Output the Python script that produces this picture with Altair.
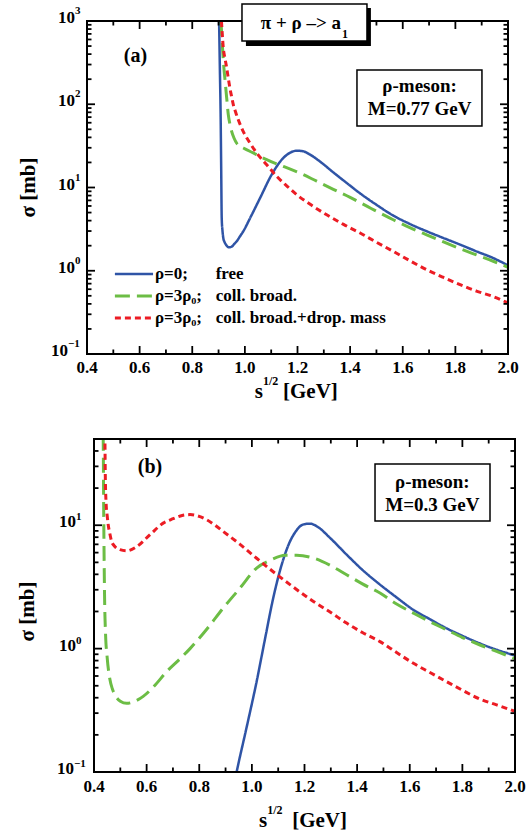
import math
import altair as alt
import pandas as pd

# ---------------- data: panel (a), rho-meson M = 0.77 GeV ----------------
a_free_x = [0.902, 0.905, 0.908, 0.910, 0.912, 0.915, 0.918, 0.923, 0.928, 0.934, 0.941, 0.950, 0.960,
            0.969, 0.980, 0.994, 1.020, 1.058, 1.102, 1.146, 1.175, 1.197, 1.220, 1.248, 1.290, 1.336,
            1.380, 1.438, 1.500, 1.564, 1.627, 1.691, 1.755, 1.818, 1.880, 1.944, 2.000]
a_free_y = [1000, 260, 68, 17, 4.3, 3.0, 2.47, 2.2, 2.06, 1.95, 1.91, 1.95, 2.1,
            2.26, 2.55, 2.98, 4.3, 7.5, 14.3, 22.6, 26.5, 27.7, 27.3, 24.8, 20.0, 15.2,
            11.8, 8.5, 6.2, 4.6, 3.65, 2.98, 2.47, 2.06, 1.71, 1.42, 1.16]

a_coll_x = [0.909, 0.912, 0.916, 0.920, 0.925, 0.931, 0.937, 0.943, 0.950, 0.959, 0.969, 0.980, 0.994,
            1.032, 1.083, 1.146, 1.210, 1.273, 1.336, 1.400, 1.480, 1.564, 1.627, 1.691, 1.755, 1.818,
            1.880, 1.944, 2.000]
a_coll_y = [1000, 700, 420, 280, 189, 118, 75, 58, 47, 39, 34, 31.5, 29.8,
            26, 21.6, 17.9, 14.9, 11.9, 9.5, 7.6, 5.6, 4.1, 3.3, 2.7, 2.22, 1.84,
            1.55, 1.30, 1.10]

a_drop_x = [0.911, 0.914, 0.918, 0.924, 0.931, 0.937, 0.943, 0.950, 0.956, 0.965, 0.975, 0.994, 1.020,
            1.045, 1.083, 1.121, 1.160, 1.197, 1.254, 1.311, 1.375, 1.438, 1.500, 1.564, 1.627, 1.691,
            1.755, 1.818, 1.880, 1.944, 2.000]
a_drop_y = [1000, 700, 474, 360, 272, 205, 157, 122, 99, 80, 65, 47, 34,
            25.9, 18.8, 13.6, 10.4, 8.2, 6.1, 4.7, 3.6, 2.84, 2.2, 1.71, 1.32, 1.03,
            0.83, 0.68, 0.57, 0.49, 0.41]

# ---------------- data: panel (b), rho-meson M = 0.3 GeV ----------------
b_free_x = [0.930, 0.942, 0.980, 1.018, 1.050, 1.081, 1.107, 1.145, 1.165, 1.183, 1.200, 1.221, 1.250,
            1.297, 1.360, 1.420, 1.487, 1.550, 1.614, 1.677, 1.740, 1.800, 1.867, 1.930, 2.000]
b_free_y = [0.075, 0.10, 0.23, 0.54, 1.2, 2.56, 4.3, 7.4, 8.8, 9.8, 10.2, 10.3, 9.7,
            7.9, 5.78, 4.35, 3.3, 2.6, 2.06, 1.73, 1.46, 1.27, 1.10, 0.98, 0.88]

b_coll_x = [0.433, 0.435, 0.437, 0.440, 0.444, 0.450, 0.460, 0.470, 0.480, 0.500, 0.524, 0.550, 0.587,
            0.630, 0.676, 0.720, 0.765, 0.830, 0.891, 0.955, 1.018, 1.075, 1.126, 1.170, 1.234, 1.300,
            1.360, 1.420, 1.487, 1.550, 1.614, 1.677, 1.740, 1.800, 1.867, 1.930, 2.000]
b_coll_y = [80, 50, 12, 2.8, 1.3, 0.85, 0.57, 0.47, 0.42, 0.375, 0.36, 0.37, 0.41,
            0.5, 0.65, 0.8, 1.0, 1.45, 2.13, 3.1, 4.5, 5.26, 5.7, 5.7, 5.42, 4.7,
            3.97, 3.35, 2.82, 2.3, 1.94, 1.65, 1.42, 1.23, 1.07, 0.95, 0.83]

b_drop_x = [0.440, 0.4415, 0.443, 0.446, 0.450, 0.454, 0.460, 0.467, 0.480, 0.499, 0.524, 0.562, 0.613,
            0.663, 0.701, 0.735, 0.765, 0.800, 0.828, 0.860, 0.891, 0.955, 1.018, 1.081, 1.145, 1.234,
            1.300, 1.360, 1.420, 1.487, 1.550, 1.614, 1.677, 1.740, 1.800, 1.867, 1.930, 2.000]
b_drop_y = [80, 50, 25, 15, 12, 10.1, 8.6, 7.4, 6.7, 6.34, 6.2, 6.7, 8.4,
            10.4, 11.3, 12.0, 12.2, 11.8, 11.1, 10.0, 8.9, 7.0, 5.4, 4.2, 3.3, 2.41,
            1.96, 1.61, 1.35, 1.14, 0.93, 0.76, 0.64, 0.54, 0.46, 0.39, 0.35, 0.31]

# ---------------- legend and tick labels ----------------
legend_series = ["free", "coll", "drop"]
legend_rho = ["ρ=0;", "ρ=3ρ₀;", "ρ=3ρ₀;"]
legend_desc = ["free", "coll. broad.", "coll. broad.+drop. mass"]
legend_y = [0.914, 0.498, 0.271]

x_tick_values = [0.4, 0.6, 0.8, 1.0, 1.2, 1.4, 1.6, 1.8, 2.0]
x_tick_labels = ["0.4", "0.6", "0.8", "1.0", "1.2", "1.4", "1.6", "1.8", "2.0"]
x_minor_values = [0.5, 0.7, 0.9, 1.1, 1.3, 1.5, 1.7, 1.9]
a_y_tick_values = [0.1, 1, 10, 100, 1000]
a_y_tick_exps = ["−1", "0", "1", "2", "3"]
b_y_tick_values = [0.1, 1, 10]
b_y_tick_exps = ["−1", "0", "1"]
a_y_minor = [round(m * 10.0 ** e, 6) for e in range(-1, 3) for m in range(2, 10)]
b_y_minor = [round(m * 10.0 ** e, 6) for e in range(-1, 1) for m in range(2, 10)] + [20, 30, 40]

# ---------------- style ----------------
FONT = "Liberation Serif"
W, H = 421, 333
XDOM = [0.4, 2.0]
COL = {"free": "#2f54a6", "coll": "#6cbd45", "drop": "#ec1c24"}
DASH = {"free": [1, 0], "coll": [15, 7], "drop": [6, 4]}
SW = {"free": 2.5, "coll": 3, "drop": 3}
TMAJ, TMIN = 8, 4.5


class P:
    def __init__(self, ydom, shift):
        self.ydom = ydom
        self.xr = [shift, W + shift]

    def X(self, field="x"):
        return alt.X(f"{field}:Q", scale=alt.Scale(domain=XDOM, range=self.xr, nice=False, zero=False),
                     axis=None)

    def Y(self, field="y"):
        return alt.Y(f"{field}:Q", scale=alt.Scale(type="log", domain=self.ydom, nice=False), axis=None)


def curve(p, xs, ys, s):
    df = pd.DataFrame({"x": xs, "y": ys})
    return alt.Chart(df).mark_line(clip=True, color=COL[s], strokeDash=DASH[s],
                                   strokeWidth=SW[s], interpolate="monotone").encode(x=p.X(), y=p.Y())


def frame(p):
    df = pd.DataFrame({"x": [XDOM[0]], "x1": [XDOM[1]], "y": [p.ydom[0]], "y1": [p.ydom[1]]})
    return alt.Chart(df).mark_rect(fillOpacity=0, stroke="black", strokeWidth=2).encode(
        x=p.X(), x2=alt.X2("x1:Q"), y=p.Y(), y2=alt.Y2("y1:Q"))


def ticks(p, y_major, y_minor):
    y0, y1 = p.ydom
    ppd = H / (math.log10(y1) - math.log10(y0))
    ppx = W / (XDOM[1] - XDOM[0])
    rows = []
    for vals, L in [(x_tick_values, TMAJ), (x_minor_values, TMIN)]:
        for v in vals:
            rows.append((v, v, y0, y0 * 10 ** (L / ppd)))
            rows.append((v, v, y1, y1 / 10 ** (L / ppd)))
    for vals, L in [(y_major, TMAJ), (y_minor, TMIN)]:
        for v in vals:
            rows.append((XDOM[0], XDOM[0] + L / ppx, v, v))
            rows.append((XDOM[1], XDOM[1] - L / ppx, v, v))
    df = pd.DataFrame(rows, columns=["x", "x1", "y", "y1"])
    return alt.Chart(df).mark_rule(color="black", strokeWidth=1.8).encode(
        x=p.X(), x2=alt.X2("x1:Q"), y=p.Y(), y2=alt.Y2("y1:Q"))


def text_layer(p, df, size, **kw):
    return alt.Chart(df).mark_text(font=FONT, fontWeight="bold", fontSize=size,
                                   color="black", **kw).encode(x=p.X(), y=p.Y(), text="t:N")


def txt(p, x, y, t, size, **kw):
    return text_layer(p, pd.DataFrame({"x": [x], "y": [y], "t": [t]}), size, **kw)


def rect(p, x0, x1, y0, y1, fill, stroke=False):
    df = pd.DataFrame({"x": [x0], "x1": [x1], "y": [y0], "y1": [y1]})
    kw = dict(fill=fill)
    if stroke:
        kw.update(stroke="black", strokeWidth=1.5)
    return alt.Chart(df).mark_rect(**kw).encode(x=p.X(), x2=alt.X2("x1:Q"), y=p.Y(), y2=alt.Y2("y1:Q"))


def ytick_labels(p, vals, exps, d_single, d_double, dy_base, dy_exp, size, esize):
    layers = []
    for v, e in zip(vals, exps):
        d = d_double if len(e) > 1 else d_single
        layers.append(txt(p, XDOM[0], v, "10", size, align="right", baseline="middle", dx=d, dy=dy_base))
        layers.append(txt(p, XDOM[0], v, e, esize, align="left", baseline="middle", dx=d, dy=dy_exp))
    return layers


def xtick_labels(p, dy, size):
    df = pd.DataFrame({"x": x_tick_values, "y": [p.ydom[0]] * len(x_tick_values), "t": x_tick_labels})
    return text_layer(p, df, size, align="center", baseline="middle", dy=dy)


# ---------------- panel (a) ----------------
pa = P([0.1, 1000], -7)
a_layers = [
    curve(pa, a_free_x, a_free_y, "free"),
    curve(pa, a_coll_x, a_coll_y, "coll"),
    curve(pa, a_drop_x, a_drop_y, "drop"),
    frame(pa),
    ticks(pa, a_y_tick_values, a_y_minor),
    # title box with shadow
    rect(pa, 1.004, 1.479, 501, 1432, "black"),
    rect(pa, 0.989, 1.464, 575, 1600, "white", stroke=True),
    txt(pa, 1.213, 946, "π + ρ –> a", 19, align="center", baseline="middle"),
    txt(pa, 1.369, 946, "1", 12, align="left", baseline="middle", dy=11),
    # rho-meson box
    rect(pa, 1.426, 1.901, 54.8, 257.6, "white", stroke=True),
    txt(pa, 1.664, 165, "ρ-meson:", 19, align="center", baseline="middle"),
    txt(pa, 1.664, 88, "M=0.77 GeV", 19, align="center", baseline="middle"),
    txt(pa, 0.584, 380, "(a)", 20, align="center", baseline="middle"),
    # axis titles
    txt(pa, 0.1796, 10, "σ [mb]", 21, align="center", baseline="middle", angle=270),
    txt(pa, 1.069, 0.1, "s", 21, align="right", baseline="middle", dy=38),
    txt(pa, 1.069, 0.1, "1/2", 12, align="left", baseline="middle", dy=27),
    txt(pa, 1.145, 0.1, "[GeV]", 21, align="left", baseline="middle", dy=38),
    xtick_labels(pa, 14, 17),
]
a_layers += ytick_labels(pa, a_y_tick_values, a_y_tick_exps, -12, -19, -3, -10, 17, 11)
for s, ly in zip(legend_series, legend_y):
    ldf = pd.DataFrame({"x": [0.506], "x1": [0.651], "y": [ly]})
    a_layers.append(alt.Chart(ldf).mark_rule(color=COL[s], strokeDash=DASH[s], strokeWidth=SW[s]).encode(
        x=pa.X(), x2=alt.X2("x1:Q"), y=pa.Y()))
a_layers.append(text_layer(pa, pd.DataFrame({"x": [0.658] * 3, "y": legend_y, "t": legend_rho}), 17,
                           align="left", baseline="middle"))
a_layers.append(text_layer(pa, pd.DataFrame({"x": [0.889] * 3, "y": legend_y, "t": legend_desc}), 17,
                           align="left", baseline="middle"))
panel_a = alt.layer(*a_layers).properties(width=W, height=H)

# ---------------- panel (b) ----------------
pb = P([0.1, 50], 0)
b_layers = [
    curve(pb, b_free_x, b_free_y, "free"),
    curve(pb, b_coll_x, b_coll_y, "coll"),
    curve(pb, b_drop_x, b_drop_y, "drop"),
    frame(pb),
    ticks(pb, b_y_tick_values, b_y_minor),
    rect(pb, 1.468, 1.905, 10.8, 31.3, "white", stroke=True),
    txt(pb, 1.686, 22.4, "ρ-meson:", 19, align="center", baseline="middle"),
    txt(pb, 1.686, 14.6, "M=0.3 GeV", 19, align="center", baseline="middle"),
    txt(pb, 0.613, 29.9, "(b)", 20, align="center", baseline="middle"),
    txt(pb, 0.149, 2.0, "σ [mb]", 21, align="center", baseline="middle", angle=270),
    txt(pb, 1.058, 0.1, "s", 21, align="right", baseline="middle", dy=49),
    txt(pb, 1.058, 0.1, "1/2", 12, align="left", baseline="middle", dy=38),
    txt(pb, 1.153, 0.1, "[GeV]", 21, align="left", baseline="middle", dy=49),
    xtick_labels(pb, 15, 17),
]
b_layers += ytick_labels(pb, b_y_tick_values, b_y_tick_exps, -18, -20, -3, -8, 17, 11)
panel_b = alt.layer(*b_layers).properties(width=W, height=H)

chart = alt.vconcat(panel_a, panel_b, spacing=34).properties(
    padding={"left": 16, "top": 2, "right": 0, "bottom": 0},
    background="white",
).configure_view(stroke="transparent")

chart.save("out.html", embed_options={"renderer": "svg", "actions": False})
